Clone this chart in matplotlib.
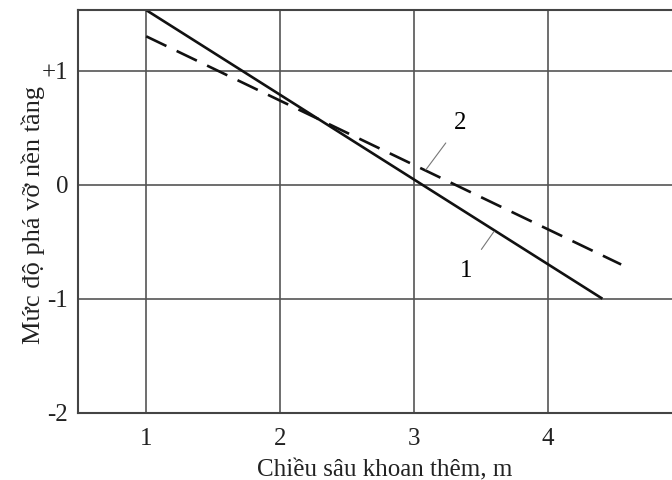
import matplotlib.pyplot as plt

plt.rcParams['font.family'] = ['Liberation Serif', 'DejaVu Serif']

# đường 1 (liền) và đường 2 (đứt nét)
depth_1 = [1.0, 4.41]
level_1 = [1.53, -1.0]
depth_2 = [1.0, 4.55]
level_2 = [1.30, -0.70]

x_ticks = [1, 2, 3, 4]
y_ticks = [1, 0, -1, -2]
y_tick_labels = ['+1', '0', '-1', '-2']

FS = 18

fig = plt.figure(figsize=(6.72, 4.8), dpi=100)
ax = fig.add_axes([0.116, 0.140, 0.884, 0.839])

ax.plot(depth_1, level_1, color='#111111', lw=1.9, solid_capstyle='butt')
ax.plot(depth_2, level_2, color='#111111', lw=1.9, dashes=(8.5, 4.3))

# nhãn đường với nét dẫn mảnh
ax.annotate('2', xy=(3.09, 0.13), xytext=(3.35, 0.54), fontsize=FS,
            ha='center', va='center',
            arrowprops=dict(arrowstyle='-', color='#777777', lw=0.8,
                            shrinkA=7, shrinkB=0))
ax.annotate('1', xy=(3.60, -0.41), xytext=(3.39, -0.76), fontsize=FS,
            ha='center', va='center',
            arrowprops=dict(arrowstyle='-', color='#777777', lw=0.8,
                            shrinkA=8, shrinkB=0))

ax.set_xlim(0.49, 4.93)
ax.set_ylim(-2.0, 1.53)
ax.set_xticks(x_ticks)
ax.set_yticks(y_ticks)
ax.set_yticklabels(y_tick_labels)
ax.tick_params(length=0, labelsize=FS, colors='#222222')
ax.tick_params(axis='y', pad=7)
ax.tick_params(axis='x', pad=11)
ax.grid(True, color='#555555', lw=1.2)

for side in ['left', 'top', 'bottom']:
    ax.spines[side].set_color('#444444')
    ax.spines[side].set_linewidth(1.5)
ax.spines['right'].set_visible(False)

ax.set_xlabel('Chiều sâu khoan thêm, m', fontsize=FS, color='#222222', va='center')
ax.set_ylabel('Mức độ phá vỡ nền tầng', fontsize=19, color='#222222', va='center')
ax.xaxis.set_label_coords(0.517, -0.143)
ax.yaxis.set_label_coords(-0.076, 0.49)

fig.savefig('out.png', dpi=100)
